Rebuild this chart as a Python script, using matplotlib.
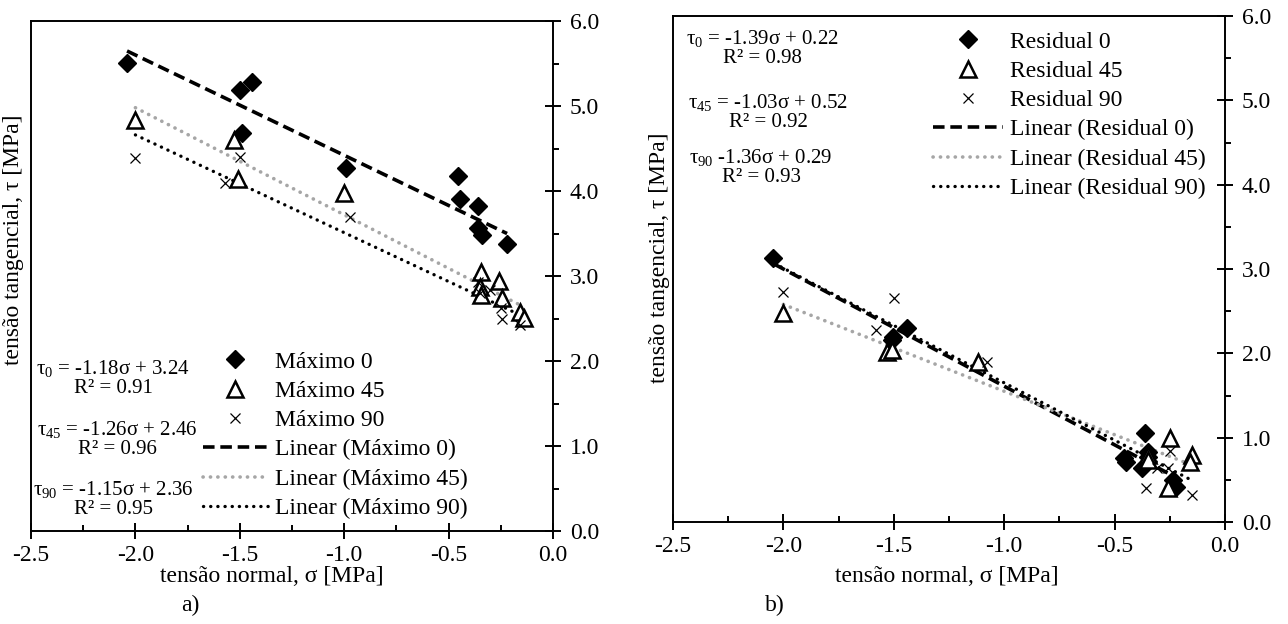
import matplotlib
matplotlib.use("Agg")
import matplotlib.pyplot as plt
import numpy as np
from matplotlib.ticker import MultipleLocator, FormatStrFormatter

plt.rcParams['font.family'] = ['Liberation Serif', 'DejaVu Serif']
plt.rcParams['mathtext.fontset'] = 'custom'
plt.rcParams['mathtext.rm'] = 'Liberation Serif'
plt.rcParams['mathtext.default'] = 'regular'

# ---------------- data: panel a) Máximo ----------------
max0_x = [-2.04, -1.50, -1.44, -1.49, -0.99, -0.455, -0.445, -0.36, -0.36, -0.34, -0.22]
max0_y = [5.51, 5.19, 5.28, 4.68, 4.27, 4.18, 3.91, 3.82, 3.56, 3.48, 3.38]
max45_x = [-2.00, -1.53, -1.51, -1.00, -0.345, -0.35, -0.345, -0.26, -0.245, -0.158, -0.14]
max45_y = [4.84, 4.60, 4.14, 3.98, 3.05, 2.87, 2.78, 2.94, 2.74, 2.58, 2.51]
max90_x = [-2.00, -1.50, -1.57, -0.97, -0.36, -0.30, -0.35, -0.25, -0.245, -0.16]
max90_y = [4.39, 4.40, 4.09, 3.69, 2.93, 2.84, 2.80, 2.62, 2.49, 2.42]
# trend lines: slope, intercept, x-range
max_fit_slope = [-1.18, -1.26, -1.15]
max_fit_icpt = [3.24, 2.46, 2.36]
max_fit_x0 = [-2.04, -2.00, -2.00]
max_fit_x1 = [-0.22, -0.14, -0.14]
max_R2 = [0.91, 0.96, 0.95]

# ---------------- data: panel b) Residual ----------------
res0_x = [-2.047, -1.504, -1.44, -1.51, -0.362, -0.457, -0.45, -0.376, -0.35, -0.35, -0.235, -0.22]
res0_y = [3.13, 2.19, 2.30, 2.16, 1.06, 0.76, 0.71, 0.64, 0.83, 0.77, 0.50, 0.42]
res45_x = [-2.00, -1.53, -1.51, -1.12, -0.25, -0.15, -0.16, -0.26, -0.35, -0.35]
res45_y = [2.48, 2.02, 2.04, 1.90, 1.00, 0.80, 0.71, 0.40, 0.79, 0.73]
res90_x = [-2.00, -1.50, -1.58, -1.08, -0.25, -0.36, -0.15, -0.31, -0.26]
res90_y = [2.73, 2.66, 2.28, 1.90, 0.84, 0.40, 0.32, 0.64, 0.64]
res_fit_slope = [-1.39, -1.03, -1.36]
res_fit_icpt = [0.22, 0.52, 0.29]
res_fit_x0 = [-2.04, -2.00, -2.04]
res_fit_x1 = [-0.22, -0.15, -0.15]
res_R2 = [0.98, 0.92, 0.93]

angles = ['0', '45', '90']

W, H = 1288, 624
fig = plt.figure(figsize=(W / 100, H / 100), dpi=100)


def fx(px):
    return px / W


def fy(py):
    return 1 - py / H


FS = 17
GRAY = '#a6a6a6'
line_styles = [
    dict(color='black', lw=2.6, linestyle=(0, (3.2, 1.6)), dash_capstyle='butt'),
    dict(color=GRAY, lw=2.6, linestyle=(0, (0.05, 2.0)), dash_capstyle='round'),
    dict(color='black', lw=2.4, linestyle=(0, (0.05, 2.1)), dash_capstyle='round'),
]
mk_styles = [
    dict(marker='D', ms=9, mfc='black', mec='black', mew=1, ls='none'),
    dict(marker='^', ms=11, mfc='white', mec='black', mew=1.8, ls='none'),
    dict(marker='x', ms=7, mfc='none', mec='black', mew=0.9, ls='none'),
]


def setup_axes(ax):
    ax.set_xlim(-2.5, 0.0)
    ax.set_ylim(0.0, 6.0)
    ax.yaxis.tick_right()
    ax.xaxis.set_major_locator(MultipleLocator(0.5))
    ax.xaxis.set_minor_locator(MultipleLocator(0.25))
    ax.yaxis.set_major_locator(MultipleLocator(1.0))
    ax.yaxis.set_minor_locator(MultipleLocator(0.5))
    ax.xaxis.set_major_formatter(FormatStrFormatter('%.1f'))
    ax.yaxis.set_major_formatter(FormatStrFormatter('%.1f'))
    ax.tick_params(axis='x', which='major', direction='inout', length=12, width=1.4,
                   labelsize=FS, pad=4)
    ax.tick_params(axis='x', which='minor', direction='in', length=4, width=1.4)
    ax.tick_params(axis='y', which='major', direction='inout', length=12, width=1.4,
                   labelsize=FS, pad=6)
    ax.tick_params(axis='y', which='minor', direction='out', length=4, width=1.4)
    for s in ax.spines.values():
        s.set_linewidth(1.4)


def draw_panel(ax, xs, ys, slopes, icpts, x0s, x1s, names):
    handles_pts = []
    handles_lines = []
    for i in range(3):
        h, = ax.plot(xs[i], ys[i], label=names[i], zorder=3, **mk_styles[i])
        handles_pts.append(h)
    for i in range(3):
        xx = np.array([x0s[i], x1s[i]])
        yy = slopes[i] * xx + icpts[i]
        h, = ax.plot(xx, yy, label='Linear (%s)' % names[i], zorder=2, **line_styles[i])
        handles_lines.append(h)
    return handles_pts + handles_lines


# ---------------- panel a ----------------
axa = fig.add_axes([fx(31), fy(531), fx(553) - fx(31), fy(21) - fy(531)])
setup_axes(axa)
names_a = ['Máximo %s' % a for a in angles]
ha = draw_panel(axa, [max0_x, max45_x, max90_x], [max0_y, max45_y, max90_y],
                max_fit_slope, max_fit_icpt, max_fit_x0, max_fit_x1, names_a)
fig.legend(handles=ha, loc='upper left', bbox_to_anchor=(fx(203), fy(351)),
           frameon=False, fontsize=FS, borderpad=0, borderaxespad=0,
           handlelength=2.75, handletextpad=0.3, labelspacing=0.33)

# ---------------- panel b ----------------
axb = fig.add_axes([fx(673), fy(522), fx(1225) - fx(673), fy(16) - fy(522)])
setup_axes(axb)
names_b = ['Residual %s' % a for a in angles]
hb = draw_panel(axb, [res0_x, res45_x, res90_x], [res0_y, res45_y, res90_y],
                res_fit_slope, res_fit_icpt, res_fit_x0, res_fit_x1, names_b)
fig.legend(handles=hb, loc='upper left', bbox_to_anchor=(fx(933), fy(31)),
           frameon=False, fontsize=FS, borderpad=0, borderaxespad=0,
           handlelength=2.95, handletextpad=0.3, labelspacing=0.33)

# ---------------- equation annotations ----------------
EQ_FS = 15


def eq_text(angle, slope, icpt, r2, sep=' = '):
    return 'τ$_{%s}$%s%.2fσ + %.2f\nR² = %.2f' % (angle, sep, slope, icpt, r2)


eq_pos_a = [(113, 378), (117, 439), (113, 499)]
for i in range(3):
    fig.text(fx(eq_pos_a[i][0]), fy(eq_pos_a[i][1]),
             eq_text(angles[i], max_fit_slope[i], max_fit_icpt[i], max_R2[i]),
             ha='center', va='center', multialignment='center', fontsize=EQ_FS,
             linespacing=1.0)

eq_pos_b = [(762, 48), (768, 112), (761, 167)]
seps_b = [' = ', ' = ', ' ']
for i in range(3):
    fig.text(fx(eq_pos_b[i][0]), fy(eq_pos_b[i][1]),
             eq_text(angles[i], res_fit_slope[i], res_fit_icpt[i], res_R2[i], seps_b[i]),
             ha='center', va='center', multialignment='center', fontsize=EQ_FS,
             linespacing=1.0)

# ---------------- axis labels / captions ----------------
fig.text(fx(272), fy(576), 'tensão normal, σ [MPa]', ha='center', va='center', fontsize=FS)
fig.text(fx(947), fy(576), 'tensão normal, σ [MPa]', ha='center', va='center', fontsize=FS)
fig.text(fx(14), fy(240), 'tensão tangencial, τ [MPa]', ha='center', va='center',
         rotation=90, fontsize=FS)
fig.text(fx(659), fy(258), 'tensão tangencial, τ [MPa]', ha='center', va='center',
         rotation=90, fontsize=FS)
fig.text(fx(190), fy(605), 'a)', ha='center', va='center', fontsize=FS)
fig.text(fx(775), fy(605), 'b)', ha='center', va='center', fontsize=FS)

fig.savefig('out.png', dpi=100)
